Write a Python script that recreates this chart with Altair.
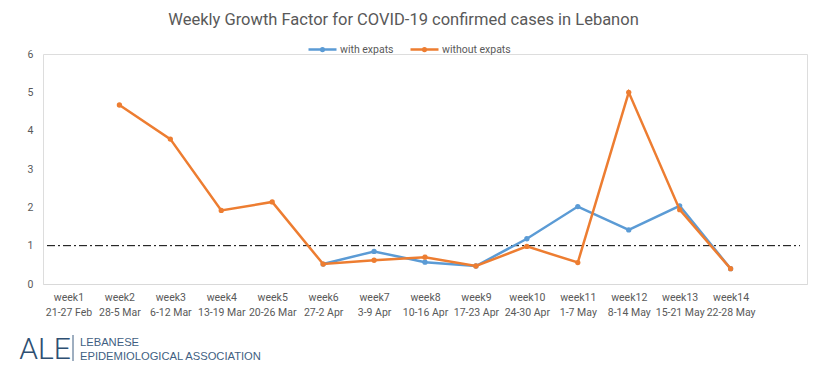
import altair as alt
import pandas as pd

weeks = ["week1", "week2", "week3", "week4", "week5", "week6", "week7",
         "week8", "week9", "week10", "week11", "week12", "week13", "week14"]
dates = ["21-27 Feb", "28-5 Mar", "6-12 Mar", "13-19 Mar", "20-26 Mar", "27-2 Apr",
         "3-9 Apr", "10-16 Apr", "17-23 Apr", "24-30 Apr", "1-7 May", "8-14 May",
         "15-21 May", "22-28 May"]
with_expats = [None, None, None, None, None, 0.52, 0.85, 0.57, 0.47, 1.18,
               2.02, 1.41, 2.04, 0.40]
without_expats = [None, 4.67, 3.78, 1.92, 2.14, 0.52, 0.62, 0.70, 0.47, 0.98,
                  0.56, 5.00, 1.94, 0.40]
series_names = ["with expats", "without expats"]
series_colors = ["#5B9BD5", "#ED7D31"]
y_ticks = [0, 1, 2, 3, 4, 5, 6]
threshold = 1
title_text = "Weekly Growth Factor for COVID-19 confirmed cases in Lebanon"
logo_lines = ["LEBANESE", "EPIDEMIOLOGICAL ASSOCIATION"]
logo_mark = "ALE"

keys = [w + "|" + d for w, d in zip(weeks, dates)]
domain = keys + [" "]

rows = []
for name, vals in zip(series_names, [with_expats, without_expats]):
    for k, v in zip(keys, vals):
        if v is not None:
            rows.append({"week": k, "value": v, "series": name})
df = pd.DataFrame(rows)

FONT = "Roboto"
GRAY = "#595959"
LOGO = "#3f5f82"

y_scale = alt.Scale(domain=[0, 6], nice=False)
y_axis = alt.Axis(
    title=None, values=y_ticks, tickCount=7, ticks=False, domain=False,
    labelOverlap=False, grid=False, labelFontSize=10.5, labelColor=GRAY,
    labelFont=FONT, labelPadding=10,
)
x_enc = alt.X(
    "week:N",
    scale=alt.Scale(domain=domain, type="point", padding=0.5),
    sort=None,
    axis=alt.Axis(
        title=None, labelAngle=0, labelExpr="split(datum.label, '|')",
        labelFontSize=10.5, labelColor=GRAY, labelFont=FONT, labelLineHeight=15,
        labelPadding=8, ticks=False, domainColor="#d9d9d9", domainWidth=1,
        labelOverlap=False, grid=False, labelBaseline="top",
    ),
)
y_enc = alt.Y("value:Q", scale=y_scale, axis=y_axis)

legend_path = "M-1,0H1M0.1,0A0.1,0.1,0,1,1,-0.1,0A0.1,0.1,0,1,1,0.1,0"
color_scale = alt.Scale(domain=series_names, range=series_colors)
color_enc = alt.Color(
    "series:N",
    scale=color_scale,
    legend=alt.Legend(
        title=None, orient="none", legendX=264, legendY=-20, direction="horizontal",
        symbolType=legend_path, symbolSize=784, symbolStrokeWidth=2.5,
        labelFontSize=10.5, labelColor=GRAY, labelFont=FONT, labelOffset=2,
        columnPadding=11,
    ),
)

base = alt.Chart(df)

rule = alt.Chart(pd.DataFrame({"value": [threshold]})).mark_rule(
    color="black", strokeWidth=1, strokeDash=[8, 3, 2, 3]
).encode(y=y_enc, x=alt.value(4), x2=alt.value(757))

layers = [rule]
for name in series_names:
    sub = base.transform_filter(alt.datum.series == name)
    layers.append(sub.mark_line(strokeWidth=2.5).encode(x=x_enc, y=y_enc, color=color_enc))
    layers.append(sub.mark_circle(size=28, opacity=1).encode(
        x=x_enc, y=y_enc, color=alt.Color("series:N", scale=color_scale, legend=None)))

title = alt.Chart(pd.DataFrame({"t": [title_text]})).mark_text(
    align="center", baseline="alphabetic", font=FONT, fontSize=16.5, color=GRAY
).encode(text="t:N", x=alt.value(360.5), y=alt.value(-29))

logo_df = pd.DataFrame({"t": logo_lines, "i": [0, 1]})
logo_text = alt.Chart(logo_df).transform_calculate(py="289 + datum.i * 14").mark_text(
    align="left", baseline="middle", font="Liberation Sans", fontSize=11.2, color=LOGO
).encode(text="t:N", x=alt.value(37), y=alt.Y("py:Q", scale=None))

bar = alt.Chart(pd.DataFrame({"a": [0]})).mark_rule(color=LOGO, strokeWidth=1).encode(
    x=alt.value(30), y=alt.value(281), y2=alt.value(307))
glyph = alt.Chart(pd.DataFrame({"t": [logo_mark]})).mark_text(
    align="center", baseline="middle", font=FONT, fontSize=30,
    fontWeight=300, color="#2e4f72"
).encode(text="t:N", x=alt.value(2), y=alt.value(296))

chart = alt.layer(*layers, title, logo_text, bar, glyph).properties(
    width=764, height=230,
    padding={"left": 35, "top": 46, "right": 5, "bottom": 81},
    autosize=alt.AutoSizeParams(type="none"),
).configure_view(stroke=None).configure(background="white")

chart.save("out.html", embed_options={"renderer": "svg", "actions": False})
